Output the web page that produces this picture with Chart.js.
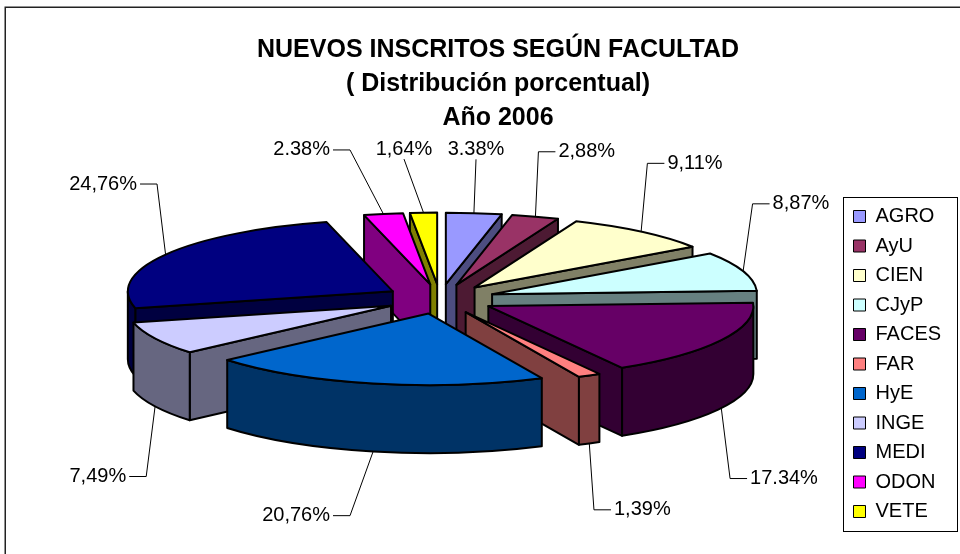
<!DOCTYPE html>
<html>
<head>
<meta charset="utf-8">
<script src="https://cdn.jsdelivr.net/npm/chart.js@4.4.0/dist/chart.umd.min.js"></script>
<style>
    html, body { margin: 0; padding: 0; background: #fff; }
</style>
</head>
<body>
<canvas id="mycanvas" width="960" height="554"></canvas>
<script>
var facultades = ["AGRO", "AyU", "CIEN", "CJyP", "FACES", "FAR", "HyE", "INGE", "MEDI", "ODON", "VETE"];
var porcentajes = [3.38, 2.88, 9.11, 8.87, 17.34, 1.39, 20.76, 7.49, 24.76, 2.38, 1.64];
var etiquetas = ["3.38%", "2,88%", "9,11%", "8,87%", "17.34%", "1,39%", "20,76%", "7,49%", "24,76%", "2.38%", "1,64%"];
var colores = ["#9999FF", "#993366", "#FFFFCC", "#CCFFFF", "#660066", "#FF8080", "#0066CC", "#CCCCFF", "#000080", "#FF00FF", "#FFFF00"];
var titulo = ["NUEVOS INSCRITOS SEGÚN FACULTAD", "( Distribución porcentual)", "Año 2006"];

// 3D look
var TILT = 0.27;      // flattening of the pie top
var DEPTH = 68;       // thickness in px
var LABEL_RX = 330;   // where the percentage labels sit
var LABEL_RY = 150;
var LEGEND_W = 116;

Chart.defaults.font.family = '"Liberation Sans", Arial, sans-serif';

function shade(hex, f) {
    var n = parseInt(hex.slice(1), 16);
    var r = Math.round(((n >> 16) & 255) * f);
    var g = Math.round(((n >> 8) & 255) * f);
    var b = Math.round((n & 255) * f);
    return "rgb(" + r + "," + g + "," + b + ")";
}

// slice geometry taken from the arc elements chart.js computed
function slices(chart) {
    var arcs = chart.getDatasetMeta(0).data;
    return arcs.map(function (a, i) {
        var p = a.getProps(["x", "y", "startAngle", "endAngle", "outerRadius"]);
        var mid = (p.startAngle + p.endAngle) / 2;
        var off = a.options.offset || 0;
        var oy = p.y - DEPTH / 2;
        return {
            i: i, a0: p.startAngle, a1: p.endAngle, mid: mid, r: p.outerRadius,
            ox: p.x, oy: oy,
            cx: p.x + Math.cos(mid) * off,
            cy: oy + Math.sin(mid) * off * TILT,
            color: a.options.backgroundColor
        };
    });
}

function pt(s, ang, h) {
    return [s.cx + s.r * Math.cos(ang), s.cy + s.r * TILT * Math.sin(ang) + h];
}

function face(ctx, pts, fill) {
    ctx.beginPath();
    ctx.moveTo(pts[0][0], pts[0][1]);
    for (var k = 1; k < pts.length; k++) ctx.lineTo(pts[k][0], pts[k][1]);
    ctx.closePath();
    ctx.fillStyle = fill;
    ctx.fill();
    ctx.stroke();
}

var pie3d = {
    id: "pie3d",
    beforeLayout: function (chart) {
        var lg = chart.legend;
        if (lg && !lg._wide) {
            var fit = lg.fit;
            lg.fit = function () { fit.call(this); this.width = LEGEND_W; };
            lg._wide = true;
        }
    },
    beforeDatasetsDraw: function (chart) {
        var ctx = chart.ctx;
        var list = slices(chart).sort(function (a, b) { return Math.sin(a.mid) - Math.sin(b.mid); });
        ctx.save();
        ctx.lineWidth = 2;
        ctx.lineJoin = "round";
        ctx.strokeStyle = "#000";
        list.forEach(function (s) {
            var side = shade(s.color, 0.5);
            var ry = s.r * TILT;
            // cut faces
            [[s.a0, Math.cos(s.a0) < 0], [s.a1, Math.cos(s.a1) > 0]].forEach(function (w) {
                if (!w[1]) return;
                var p = pt(s, w[0], 0);
                face(ctx, [[s.cx, s.cy], p, [p[0], p[1] + DEPTH], [s.cx, s.cy + DEPTH]], side);
            });
            // round wall, front half only
            var t0 = Math.max(s.a0, 0), t1 = Math.min(s.a1, Math.PI);
            if (t1 > t0) {
                ctx.beginPath();
                ctx.ellipse(s.cx, s.cy, s.r, ry, 0, t0, t1);
                ctx.ellipse(s.cx, s.cy + DEPTH, s.r, ry, 0, t1, t0, true);
                ctx.closePath();
                ctx.fillStyle = side;
                ctx.fill();
                ctx.stroke();
            }
            // top
            ctx.beginPath();
            ctx.moveTo(s.cx, s.cy);
            ctx.ellipse(s.cx, s.cy, s.r, ry, 0, s.a0, s.a1);
            ctx.closePath();
            ctx.fillStyle = s.color;
            ctx.fill();
            ctx.stroke();
        });
        ctx.restore();
        return false;
    },
    afterDraw: function (chart) {
        var ctx = chart.ctx;
        ctx.save();
        // labels with leader lines
        ctx.font = '20px "Liberation Sans", Arial, sans-serif';
        ctx.fillStyle = "#000";
        ctx.strokeStyle = "#000";
        ctx.lineWidth = 1;
        slices(chart).forEach(function (s) {
            var c = Math.cos(s.mid), sn = Math.sin(s.mid);
            var dir = c > 0 ? 1 : -1;
            var h = sn > 0.2 ? DEPTH : 0;
            var a = pt(s, s.mid, h);
            var ly = s.oy + h + LABEL_RY * (sn < 0 ? -1 : 1) * Math.pow(Math.abs(sn), 0.4);
            var lx;
            ctx.beginPath();
            ctx.moveTo(a[0], a[1]);
            if (Math.abs(c) < 0.12) {
                // label straight above / below: keep neighbours apart
                lx = s.ox + dir * Math.max(Math.abs(LABEL_RX * c), 36);
                ctx.lineTo(lx, ly + (sn < 0 ? 10 : -10));
                ctx.stroke();
                ctx.textAlign = "center";
                ctx.textBaseline = "middle";
                ctx.fillText(etiquetas[s.i], lx, ly);
            } else {
                lx = s.ox + dir * Math.max(Math.abs(LABEL_RX * c), 90);
                ctx.lineTo(lx, ly);
                ctx.lineTo(lx + dir * 17, ly);
                ctx.stroke();
                ctx.textAlign = dir > 0 ? "left" : "right";
                ctx.textBaseline = "middle";
                ctx.fillText(etiquetas[s.i], lx + dir * 20, ly);
            }
        });
        // legend frame
        var lg = chart.legend;
        var hb = lg.legendHitBoxes;
        var top = hb[0].top - 9.5;
        var bottom = hb[hb.length - 1].top + hb[hb.length - 1].height + 9.5;
        ctx.lineWidth = 1;
        ctx.strokeStyle = "#000";
        ctx.strokeRect(Math.round(lg.left) - 0.5, Math.round(top) + 0.5, 958 - Math.round(lg.left), Math.round(bottom - top));
        // chart border
        ctx.lineWidth = 1.5;
        ctx.strokeStyle = "#222";
        ctx.strokeRect(5.25, 7.25, 980, 580);
        ctx.restore();
    }
};

var ctx = document.getElementById("mycanvas");
var chart = new Chart(ctx, {
    type: "pie",
    data: {
        labels: facultades,
        datasets: [{
            data: porcentajes,
            backgroundColor: colores,
            borderColor: "#000",
            borderWidth: 1,
            offset: 55,
            radius: 265
        }]
    },
    options: {
        responsive: false,
        animation: false,
        events: [],
        layout: { padding: { left: 36, right: 0, top: 0, bottom: 23 } },
        plugins: {
            title: {
                display: true,
                text: titulo,
                color: "#000",
                font: { size: 25, weight: "bold", lineHeight: 1.36 },
                padding: { top: 33, bottom: 0 }
            },
            legend: {
                position: "right",
                align: "end",
                labels: {
                    color: "#000",
                    font: { size: 20 },
                    boxWidth: 12,
                    boxHeight: 12,
                    padding: 9.5
                }
            },
            tooltip: { enabled: false }
        }
    },
    plugins: [pie3d]
});
</script>
</body>
</html>
